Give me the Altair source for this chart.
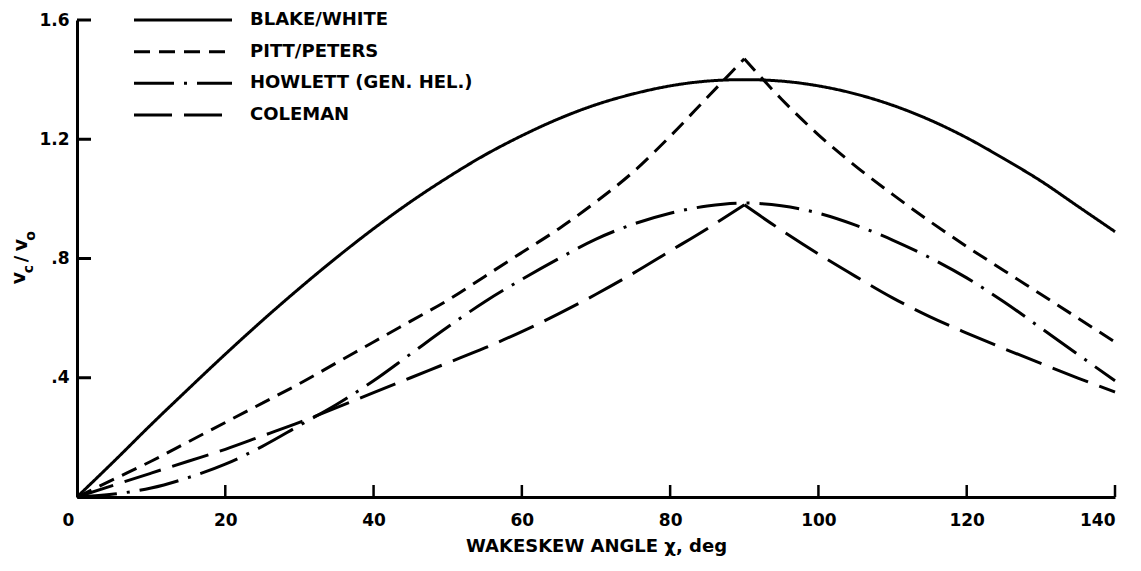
import altair as alt
import pandas as pd

# ---- data ----
angle = [0, 5, 10, 15, 20, 25, 30, 35, 40, 45, 50, 55, 60, 65, 70, 75,
         80, 85, 90, 95, 100, 105, 110, 115, 120, 125, 130, 135, 140]
blake_white = [0.0, 0.12, 0.243, 0.362, 0.479, 0.592, 0.70, 0.803, 0.90, 0.99, 1.072, 1.147, 1.212,
               1.269, 1.316, 1.352, 1.379, 1.395, 1.40, 1.395, 1.379, 1.352, 1.314, 1.265, 1.205,
               1.135, 1.06, 0.975, 0.89]
pitt_peters = [0.0, 0.06, 0.12, 0.185, 0.25, 0.315, 0.38, 0.45, 0.52, 0.59, 0.66, 0.74, 0.82,
               0.90, 0.99, 1.09, 1.21, 1.34, 1.47, 1.335, 1.215, 1.11, 1.015, 0.925, 0.84,
               0.76, 0.68, 0.60, 0.52]
howlett = [0.0, 0.01, 0.03, 0.065, 0.11, 0.17, 0.24, 0.31, 0.39, 0.48, 0.57, 0.655, 0.73,
           0.80, 0.865, 0.915, 0.952, 0.976, 0.986, 0.977, 0.952, 0.912, 0.862, 0.803, 0.735,
           0.655, 0.567, 0.478, 0.39]
coleman = [0.0, 0.04, 0.08, 0.12, 0.16, 0.205, 0.25, 0.30, 0.35, 0.40, 0.45, 0.50, 0.555,
           0.615, 0.68, 0.75, 0.825, 0.90, 0.98, 0.895, 0.815, 0.74, 0.668, 0.605, 0.55,
           0.498, 0.448, 0.399, 0.352]
series_names = ["BLAKE/WHITE", "PITT/PETERS", "HOWLETT (GEN. HEL.)", "COLEMAN"]
cusp_series = ["PITT/PETERS", "COLEMAN"]   # curves with a sharp corner at 90 deg
cusp_angle = 90
x_tick_values = [0, 20, 40, 60, 80, 100, 120, 140]
y_tick_values = [0, 0.4, 0.8, 1.2, 1.6]
x_inner_ticks = [20, 40, 60, 80, 100, 120, 140]
y_inner_ticks = [0.4, 0.8, 1.2, 1.6]

rows = []
for name, vals in zip(series_names, [blake_white, pitt_peters, howlett, coleman]):
    for a, v in zip(angle, vals):
        if name in cusp_series:
            if a <= cusp_angle:
                rows.append({"series": name, "part": name + "-a", "angle": a, "ratio": v})
            if a >= cusp_angle:
                rows.append({"series": name, "part": name + "-b", "angle": a, "ratio": v})
        else:
            rows.append({"series": name, "part": name, "angle": a, "ratio": v})
df = pd.DataFrame(rows)

W, H = 1038, 477
FONT = "DejaVu Sans"

dash_scale = alt.Scale(domain=series_names,
                       range=[[1, 0], [16, 9], [40, 10, 3, 10], [38, 12]])
xs = alt.Scale(domain=[0, 140], nice=False)
ys = alt.Scale(domain=[0, 1.6], nice=False)

x_axis = alt.Axis(values=x_tick_values, title="WAKESKEW ANGLE χ, deg",
                  labelPadding=15, titlePadding=9,
                  labelOffset={"condition": {"test": "datum.value == 0", "value": -15},
                               "value": 0})
y_axis = alt.Axis(values=y_tick_values, title=None, labelPadding=8,
                  labelExpr="datum.value == 0 ? '' : (datum.value < 1 ? slice(format(datum.value, '.1f'), 1) : format(datum.value, '.1f'))")

lines = alt.Chart(df).mark_line(color="black", strokeWidth=3, interpolate="monotone").encode(
    x=alt.X("angle:Q", scale=xs, axis=x_axis),
    y=alt.Y("ratio:Q", scale=ys, axis=y_axis),
    strokeDash=alt.StrokeDash("series:N", scale=dash_scale, legend=None),
    detail="part:N",
)

xt = alt.Chart(pd.DataFrame({"t": x_inner_ticks})).mark_rule(color="black", strokeWidth=2.5).encode(
    x=alt.X("t:Q", scale=xs, axis=x_axis),
    y=alt.value(H), y2=alt.value(H - 12),
)
yt = alt.Chart(pd.DataFrame({"t": y_inner_ticks})).mark_rule(color="black", strokeWidth=3).encode(
    y=alt.Y("t:Q", scale=ys, axis=None),
    x=alt.value(0), x2=alt.value(14),
)

leg_df = pd.DataFrame({"series": series_names})
leg_y = alt.Y("series:N", scale=alt.Scale(type="point", domain=series_names, range=[0, 95], padding=0),
              axis=None)
leg_rule = alt.Chart(leg_df).mark_rule(color="black", strokeWidth=3).encode(
    y=leg_y, x=alt.value(57), x2=alt.value(155),
    strokeDash=alt.StrokeDash("series:N", scale=dash_scale, legend=None),
)
leg_text = alt.Chart(leg_df).mark_text(align="left", baseline="middle", font=FONT, fontSize=18,
                                        fontWeight="bold", color="black").encode(
    y=leg_y, x=alt.value(173), text="series:N",
)

# y-axis title v_c / v_o built from glyphs (rotated)
glyphs = [("v", -58, 258, 19), ("c", -48, 249, 14), ("/", -55, 239, 18),
          ("v", -56, 225, 19), ("o", -46, 216, 14)]
title_layers = []
for g, gx, gy, gs in glyphs:
    title_layers.append(
        alt.Chart(pd.DataFrame({"g": [g]})).mark_text(
            angle=270, align="center", baseline="middle", font=FONT, fontSize=gs,
            fontWeight="bold", color="black").encode(
            x=alt.value(gx), y=alt.value(gy), text="g:N")
    )

chart = alt.layer(lines, xt, yt, leg_rule, leg_text, *title_layers).resolve_scale(
    y="independent"
).properties(
    width=W, height=H,
    padding={"left": 69, "top": 12, "right": 10, "bottom": 64},
    autosize=alt.AutoSizeParams(type="none"),
    background="white",
).configure_view(stroke=None).configure_axis(
    grid=False, ticks=False, domainWidth=3, domainColor="black",
    labelFont=FONT, labelFontSize=17, labelFontWeight="bold", labelColor="black",
    titleFont=FONT, titleFontSize=18, titleFontWeight="bold", titleColor="black",
)

chart.save("out.html", embed_options={"renderer": "svg", "actions": False})
